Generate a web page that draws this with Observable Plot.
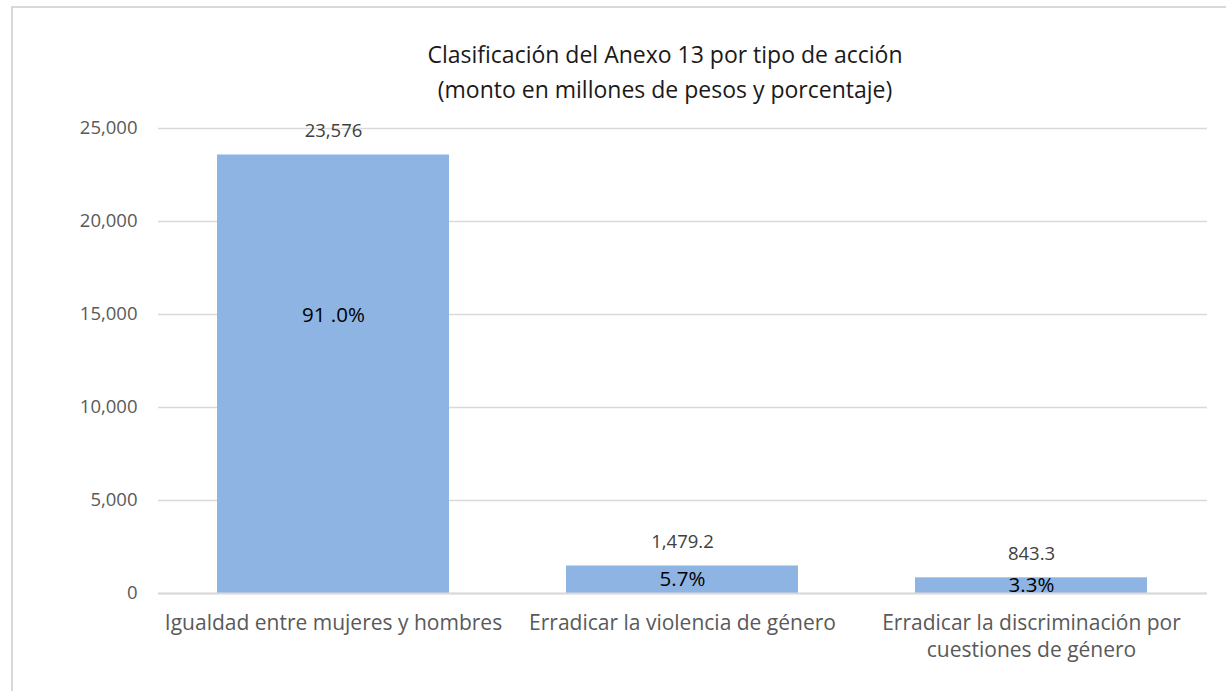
<!DOCTYPE html>
<html>
<head>
<meta charset="utf-8">
<script src="https://cdn.jsdelivr.net/npm/d3@7"></script>
<script src="https://cdn.jsdelivr.net/npm/@observablehq/plot@0.6"></script>
<style>
  html, body { margin: 0; padding: 0; background: #fff; }
  #wrap { position: relative; width: 1226px; height: 691px; overflow: hidden; font-family: "Open Sans", sans-serif; }
  #frame { position: absolute; left: 11px; top: 6px; width: 1240px; height: 700px; border: 2px solid #d9d9d9; box-sizing: border-box; }
  #title { position: absolute; left: 365px; width: 600px; top: 37px; text-align: center; font-size: 23px; line-height: 35px; color: #1a1a1a; }
  #chart { position: absolute; left: 0; top: 110px; }
</style>
</head>
<body>
<div id="wrap">
  <div id="frame"></div>
  <div id="title">Clasificación del Anexo 13 por tipo de acción<br>(monto en millones de pesos y porcentaje)</div>
  <div id="chart"></div>
</div>
<script>
const categories = ["Igualdad entre mujeres y hombres", "Erradicar la violencia de género", "Erradicar la discriminación por cuestiones de género"];
const tickLabels = ["Igualdad entre mujeres y hombres", "Erradicar la violencia de género", "Erradicar la discriminación por\ncuestiones de género"];
const amounts = [23576, 1479.2, 843.3];
const amountLabels = ["23,576", "1,479.2", "843.3"];
const shareLabels = ["91 .0%", "5.7%", "3.3%"];
const yTicks = [0, 5000, 10000, 15000, 20000, 25000];

const data = categories.map((c, i) => ({cat: c, value: amounts[i], amt: amountLabels[i], share: shareLabels[i]}));
const labelOf = new Map(categories.map((c, i) => [c, tickLabels[i]]));

const chart = Plot.plot({
  width: 1226,
  height: 581,
  marginTop: 18,
  marginBottom: 98,
  marginLeft: 158,
  marginRight: 19,
  style: {fontFamily: "Open Sans, sans-serif", fontSize: "16px", overflow: "visible", background: "transparent"},
  x: {domain: categories, paddingInner: 0.334, paddingOuter: 0.167, label: null},
  y: {domain: [0, 25000], label: null},
  marks: [
    Plot.gridY(yTicks, {stroke: "#d9d9d9", strokeOpacity: 1, strokeWidth: 1.3}),
    Plot.barY(data, {x: "cat", y: "value", fill: "#8eb4e3"}),
    Plot.ruleY([0], {stroke: "#d9d9d9", strokeWidth: 2}),
    Plot.axisY(yTicks, {tickSize: 0, tickPadding: 21, tickFormat: d3.format(","), fontSize: 18.5, fill: "#595959", label: null}),
    Plot.axisX({tickSize: 0, tickPadding: 17, tickFormat: d => labelOf.get(d), fontSize: 21, fill: "#595959", lineHeight: 1.29, label: null}),
    Plot.text(data, {x: "cat", y: "value", text: "amt", dy: -24, fontSize: 18.5, fill: "#404040"}),
    Plot.text(data.slice(0, 1), {x: "cat", y: d => d.value / 2, text: "share", dy: -59, fontSize: 20.5, fill: "#000"}),
    Plot.text(data.slice(1), {x: "cat", y: d => d.value / 2, text: "share", fontSize: 20.5, fill: "#000"})
  ]
});
document.getElementById("chart").appendChild(chart);
</script>
</body>
</html>
